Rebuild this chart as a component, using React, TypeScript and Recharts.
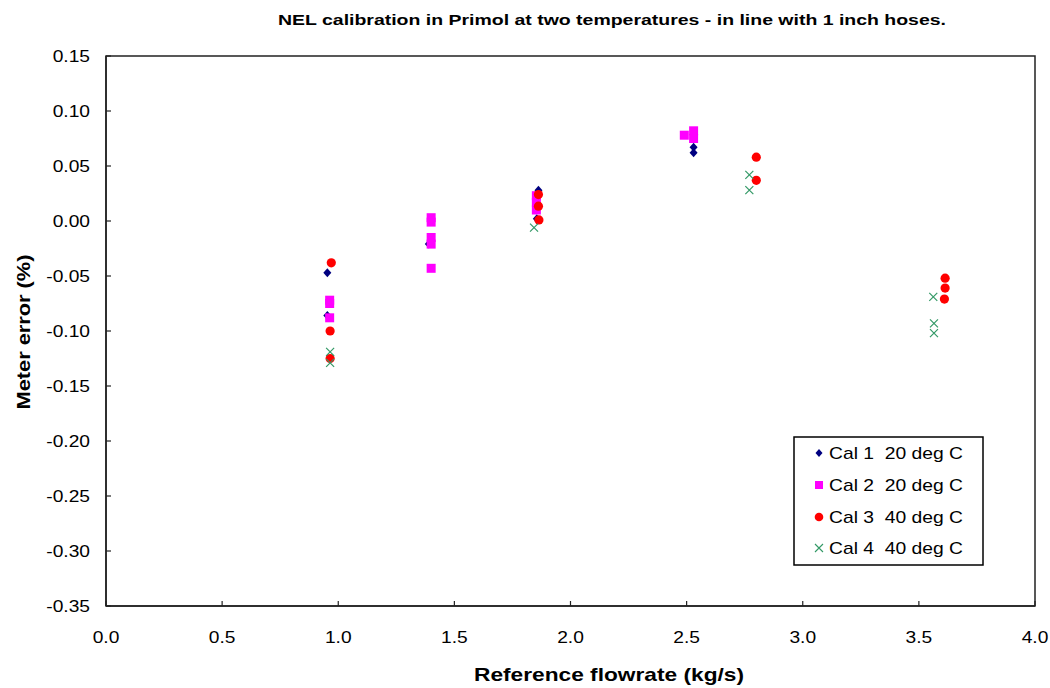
import React from 'react';
import { ScatterChart, Scatter, XAxis, YAxis, ReferenceArea, Customized } from 'recharts';

const xTicks = [0, 0.5, 1, 1.5, 2, 2.5, 3, 3.5, 4];
const yTicks = [0.15, 0.1, 0.05, 0, -0.05, -0.1, -0.15, -0.2, -0.25, -0.3, -0.35];

const cal1 = [
  { x: 0.953, y: -0.047 }, { x: 0.953, y: -0.086 },
  { x: 1.39, y: -0.021 },
  { x: 1.862, y: 0.028 }, { x: 1.855, y: 0.002 },
  { x: 2.53, y: 0.067 }, { x: 2.53, y: 0.062 },
];
const cal2 = [
  { x: 0.963, y: -0.072 }, { x: 0.963, y: -0.075 }, { x: 0.963, y: -0.088 },
  { x: 1.40, y: 0.003 }, { x: 1.40, y: -0.001 }, { x: 1.40, y: -0.015 }, { x: 1.40, y: -0.021 }, { x: 1.40, y: -0.043 },
  { x: 1.853, y: 0.023 }, { x: 1.853, y: 0.017 }, { x: 1.853, y: 0.010 },
  { x: 2.49, y: 0.078 }, { x: 2.53, y: 0.082 }, { x: 2.53, y: 0.075 },
];
const cal3 = [
  { x: 0.97, y: -0.038 }, { x: 0.965, y: -0.100 }, { x: 0.965, y: -0.125 },
  { x: 1.862, y: 0.024 }, { x: 1.862, y: 0.0135 }, { x: 1.864, y: 0.001 },
  { x: 2.80, y: 0.058 }, { x: 2.80, y: 0.037 },
  { x: 3.613, y: -0.052 }, { x: 3.613, y: -0.061 }, { x: 3.61, y: -0.071 },
];
const cal4 = [
  { x: 0.965, y: -0.119 }, { x: 0.965, y: -0.129 },
  { x: 1.843, y: -0.006 },
  { x: 2.77, y: 0.042 }, { x: 2.77, y: 0.028 },
  { x: 3.562, y: -0.069 }, { x: 3.565, y: -0.093 }, { x: 3.565, y: -0.102 },
];

const seriesNames = ['Cal 1  20 deg C', 'Cal 2  20 deg C', 'Cal 3  40 deg C', 'Cal 4  40 deg C'];
const colors = ['#000080', '#FF00FF', '#FF0000', '#339966'];

const FONT = '"Liberation Sans", Arial, sans-serif';

const Diamond = (p: any) => (
  <path d={`M${p.cx},${p.cy - 4.5}L${p.cx + 4},${p.cy}L${p.cx},${p.cy + 4.5}L${p.cx - 4},${p.cy}Z`} fill={colors[0]} />
);
const Square = (p: any) => <rect x={p.cx - 4.5} y={p.cy - 4.5} width={9} height={9} fill={colors[1]} />;
const Circle = (p: any) => <circle cx={p.cx} cy={p.cy} r={4.6} fill={colors[2]} />;
const Cross = (p: any) => (
  <path d={`M${p.cx - 4},${p.cy - 4}L${p.cx + 4},${p.cy + 4}M${p.cx - 4},${p.cy + 4}L${p.cx + 4},${p.cy - 4}`} stroke={colors[3]} strokeWidth={1.2} fill="none" />
);

const SText = ({ x, y, anchor, size, bold, children, sx = 1.2 }: any) => (
  <text transform={`translate(${x},${y}) scale(${sx},1)`} textAnchor={anchor} fontSize={size}
    fontFamily={FONT} fontWeight={bold ? 'bold' : 'normal'} fill="#000" style={{ whiteSpace: 'pre' }}>
    {children}
  </text>
);

const XTick = (p: any) => (
  <g>
    <line x1={p.x} y1={p.y} x2={p.x} y2={p.y - 5} stroke="#222" strokeWidth={1.2} />
    <SText x={p.x} y={p.y + 37} anchor="middle" size={16}>{Number(p.payload.value).toFixed(1)}</SText>
  </g>
);
const YTick = (p: any) => (
  <g>
    <line x1={p.x} y1={p.y} x2={p.x + 5} y2={p.y} stroke="#222" strokeWidth={1.2} />
    <SText x={p.x - 16} y={p.y + 6} anchor="end" size={16}>{Number(p.payload.value).toFixed(2)}</SText>
  </g>
);

const legendIcons = [
  (cx: number, cy: number) => <path d={`M${cx},${cy - 4}L${cx + 3.5},${cy}L${cx},${cy + 4}L${cx - 3.5},${cy}Z`} fill={colors[0]} />,
  (cx: number, cy: number) => <rect x={cx - 4} y={cy - 4} width={8} height={8} fill={colors[1]} />,
  (cx: number, cy: number) => <circle cx={cx} cy={cy} r={4.3} fill={colors[2]} />,
  (cx: number, cy: number) => <path d={`M${cx - 4},${cy - 4}L${cx + 4},${cy + 4}M${cx - 4},${cy + 4}L${cx + 4},${cy - 4}`} stroke={colors[3]} strokeWidth={1.1} />,
];
const legendRows = [453, 485, 517, 548];

const Decor = () => (
  <g>
    <text x={612} y={25} textAnchor="middle" fontSize={15} fontFamily={FONT} fontWeight="bold" textLength={668} lengthAdjust="spacingAndGlyphs">
      NEL calibration in Primol at two temperatures - in line with 1 inch hoses.
    </text>
    <text x={609} y={681} textAnchor="middle" fontSize={19} fontFamily={FONT} fontWeight="bold" textLength={270} lengthAdjust="spacingAndGlyphs">
      Reference flowrate (kg/s)
    </text>
    <text x={30} y={332} textAnchor="middle" fontSize={19} fontFamily={FONT} fontWeight="bold" transform="rotate(-90 30 332)" textLength={155} lengthAdjust="spacingAndGlyphs">
      Meter error (%)
    </text>
    <rect x={794} y={437} width={189} height={128} fill="#fff" stroke="#000" strokeWidth={1.5} />
    {seriesNames.map((n, i) => (
      <g key={n}>
        {legendIcons[i](819, legendRows[i])}
        <text x={829} y={legendRows[i] + 6} fontSize={17} fontFamily={FONT} textLength={134} lengthAdjust="spacingAndGlyphs" style={{ whiteSpace: 'pre' }}>{n}</text>
      </g>
    ))}
  </g>
);

export default function App() {
  return (
    <div style={{ position: 'absolute', left: 0, top: 0, width: 1050, height: 688, background: '#fff' }}>
      <ScatterChart width={1050} height={688} margin={{ top: 56, right: 15, bottom: 0, left: 0 }}>
        <XAxis type="number" dataKey="x" domain={[0, 4]} ticks={xTicks} interval={0} height={82}
          axisLine={{ stroke: '#222', strokeWidth: 1.5 }} tickLine={false} tickSize={0} tickMargin={0} tick={<XTick />} />
        <YAxis type="number" dataKey="y" domain={[-0.35, 0.15]} ticks={yTicks} interval={0} width={106}
          axisLine={{ stroke: '#222', strokeWidth: 1.5 }} tickLine={false} tickSize={0} tickMargin={0} tick={<YTick />} />
        <ReferenceArea x1={0} x2={4} y1={-0.35} y2={0.15} fill="none" stroke="#222" strokeWidth={1.5} fillOpacity={0} />
        <Scatter name={seriesNames[0]} data={cal1} shape={Diamond} isAnimationActive={false} />
        <Scatter name={seriesNames[1]} data={cal2} shape={Square} isAnimationActive={false} />
        <Scatter name={seriesNames[2]} data={cal3} shape={Circle} isAnimationActive={false} />
        <Scatter name={seriesNames[3]} data={cal4} shape={Cross} isAnimationActive={false} />
        <Customized component={Decor} />
      </ScatterChart>
    </div>
  );
}
